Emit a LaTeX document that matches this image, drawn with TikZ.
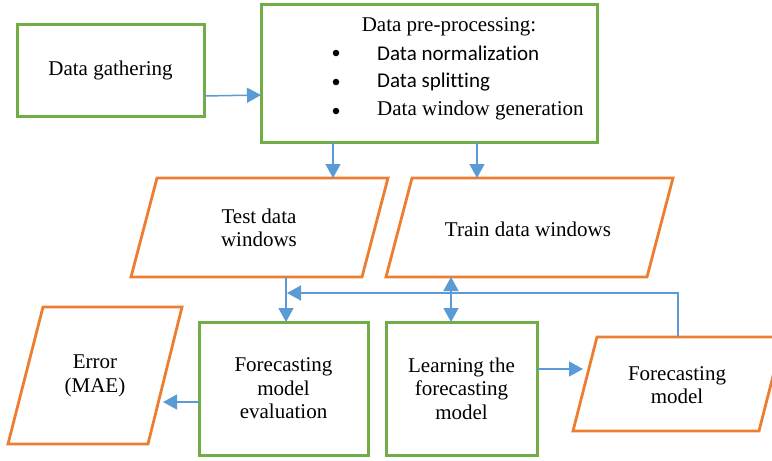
\documentclass[tikz,border=0pt]{standalone}
\usepackage{fontspec}
\setmainfont{Liberation Serif}
\newfontfamily\calib[Ligatures=NoCommon]{Carlito}
\usetikzlibrary{arrows.meta}
\definecolor{gr}{HTML}{70AD47}
\definecolor{og}{HTML}{ED7D31}
\definecolor{bl}{HTML}{5B9BD5}
\begin{document}
\begin{tikzpicture}[x=1pt,y=-1pt,
 txt/.style={align=center, inner sep=0pt, font=\fontsize{21}{23.5}\selectfont},
 gbox/.style={txt, draw=gr, line width=3pt},
 obox/.style={draw=og, line width=2.8pt, line join=miter},
 bul/.style={circle, fill=black, inner sep=0pt, minimum size=6.5pt},
 arr/.style={draw=bl, line width=1.5pt, -{Triangle[length=14pt,width=15pt]}},
 darr/.style={draw=bl, line width=1.5pt, {Triangle[length=14pt,width=15pt]}-{Triangle[length=14pt,width=15pt]}}]
\useasboundingbox (0,0) rectangle (772,461);
\clip (0,0) rectangle (772,461);
\fill[white] (0,0) rectangle (772,461);

% green boxes
\node[gbox, minimum width=187pt, minimum height=92pt] (gather) at (110.5,70) {Data gathering};
\node[gbox, minimum width=336pt, minimum height=138pt] (pre) at (429,73) {};
\node[gbox, minimum width=169pt, minimum height=133pt] (eval) at (283.5,388.5) {Forecasting\\model\\evaluation};
\node[gbox, minimum width=151pt, minimum height=133pt] (learn) at (461.5,388.5) {Learning the\\forecasting\\model};

% pre-processing text
\node[txt] (pretitle) at (449,27) {Data pre-processing:};
\node[bul] (b1) at (336,53) {};
\node[bul] (b2) at (336,82) {};
\node[bul] (b3) at (336,111) {};
\node[txt, anchor=west] (i1) at (377,53) {\calib Data normalization};
\node[txt, anchor=west] (i2) at (377,82) {\calib Data splitting};
\node[txt, anchor=west] (i3) at (377,110) {Data window generation};

% parallelograms
\draw[obox] (157,178) -- (388,178) -- (362,277) -- (131,277) -- cycle;
\node[txt] (test) at (259,228) {Test data\\windows};
\draw[obox] (412,178) -- (673,178) -- (647,277) -- (386,277) -- cycle;
\node[txt] (train) at (528,229) {Train data windows};
\draw[obox] (597,337) -- (783,337) -- (759,431) -- (573,431) -- cycle;
\node[txt] (fm) at (677,385) {Forecasting\\model};
\draw[obox] (43,307) -- (182,307) -- (148,444) -- (8,444) -- cycle;
\node[txt] (err) at (95,376) {Error\\(MAE)};

% connector coordinates
\coordinate (gOut) at (204,96);
\coordinate (pIn) at (261,95);
\coordinate (p1) at (333,142);
\coordinate (t1) at (333,178);
\coordinate (p2) at (477,142);
\coordinate (t2) at (477,178);
\coordinate (testB) at (286,277);
\coordinate (evalT) at (286,322);
\coordinate (trainB) at (451,277);
\coordinate (learnT) at (451,322);
\coordinate (fmT) at (678,337);
\coordinate (loopEnd) at (287,293);
\coordinate (learnR) at (537,369);
\coordinate (fmL) at (583,369);
\coordinate (evalL) at (199,402);
\coordinate (errR) at (163,402);

\draw[arr] (gOut) -- (pIn);
\draw[arr] (p1) -- (t1);
\draw[arr] (p2) -- (t2);
\draw[arr] (testB) -- (evalT);
\draw[darr] (trainB) -- (learnT);
\draw[arr] (fmT) |- (loopEnd);
\draw[arr] (learnR) -- (fmL);
\draw[arr] (evalL) -- (errR);
\end{tikzpicture}
\end{document}
